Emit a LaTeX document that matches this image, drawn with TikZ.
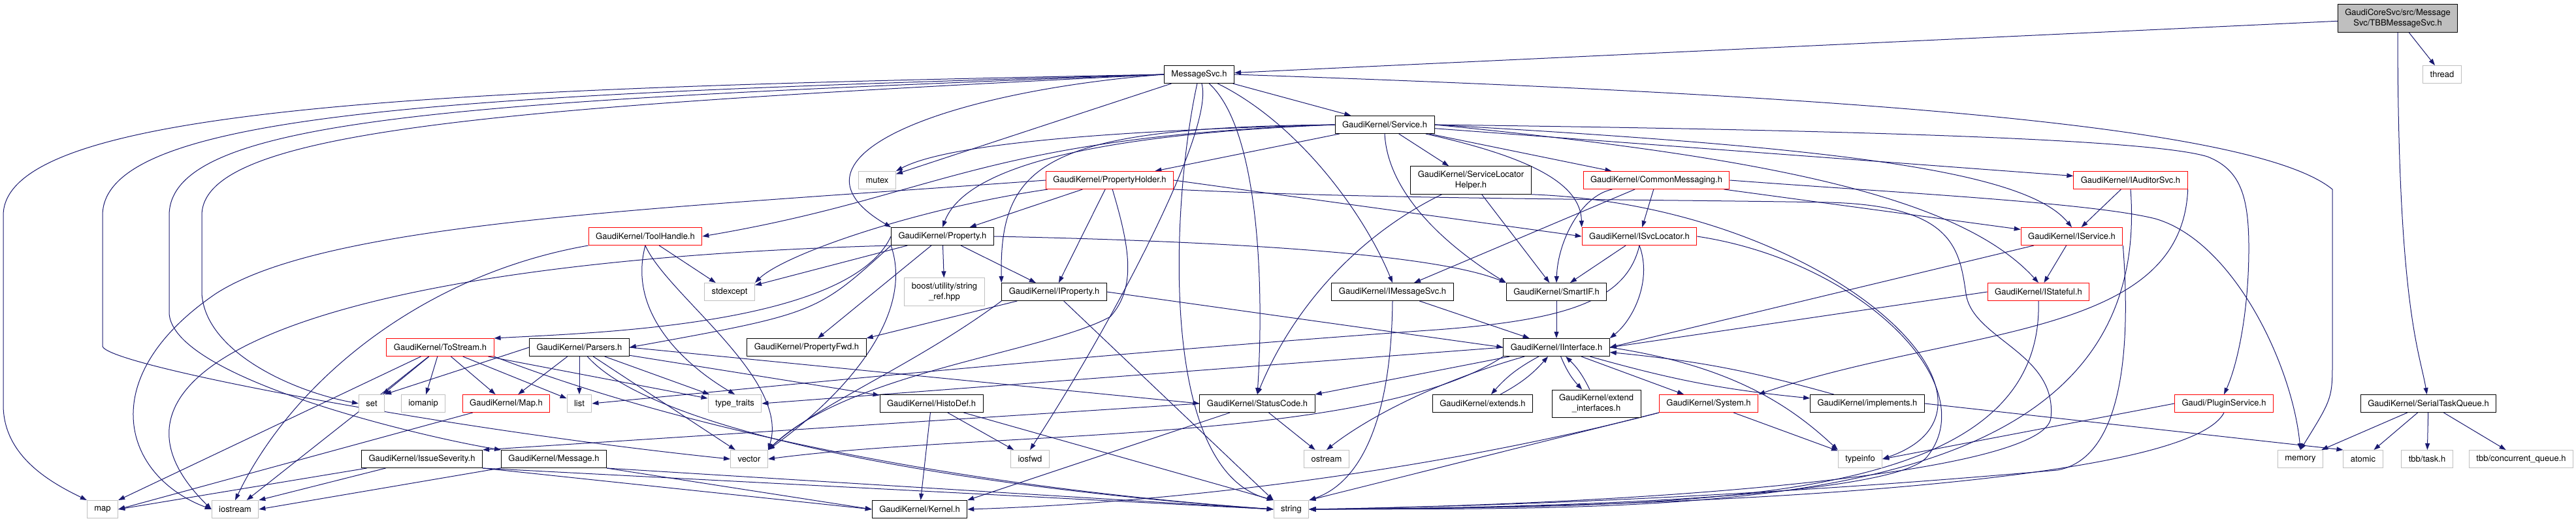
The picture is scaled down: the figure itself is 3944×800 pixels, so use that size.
\documentclass[tikz,border=0pt]{standalone}
\usepackage{fontspec}
\setmainfont{TeX Gyre Heros}
\usetikzlibrary{arrows.meta}
\definecolor{edgeblue}{HTML}{191970}
\definecolor{sysgray}{HTML}{BFBFBF}
\pgfdeclarelayer{edges}
\pgfsetlayers{edges,main}
\begin{document}
\begin{tikzpicture}
            [
                x = 0.5pt, y = -0.5pt,
                every node/.style = {shape=rectangle, draw=black, fill=white,
                line width=0.5pt, align=center,
                font=\fontsize{6.5}{8}\selectfont,
                inner xsep=5.5pt, inner ysep=3.5pt, minimum height=13.5pt},
                redbox/.style  = {draw=red},
                sysbox/.style  = {draw=sysgray},
                rootbox/.style = {fill=sysgray},
                inc/.style = {draw=edgeblue, line width=0.5pt,
                -{Triangle[length=5pt,width=3.5pt]}}
            ]
            \useasboundingbox (0,0) rectangle (3944,800);
            \node [rootbox] (root) at (3671,28) {GaudiCoreSvc/src/Message\\Svc/TBBMessageSvc.h};
            \node [sysbox] (thread) at (3739,114) {thread};
            \node (msgsvc) at (1836,114) {MessageSvc.h};
            \node (service) at (2120,191) {GaudiKernel/Service.h};
            \node [sysbox] (mutex) at (1343,276) {mutex};
            \node [redbox] (propholder) at (1699,276) {GaudiKernel/PropertyHolder.h};
            \node (slhelper) at (2252,276) {GaudiKernel/ServiceLocator\\Helper.h};
            \node [redbox] (commsg) at (2536,276) {GaudiKernel/CommonMessaging.h};
            \node [redbox] (iauditor) at (3262,276) {GaudiKernel/IAuditorSvc.h};
            \node [redbox] (toolhandle) at (988,362) {GaudiKernel/ToolHandle.h};
            \node (property) at (1443,362) {GaudiKernel/Property.h};
            \node [redbox] (isvcloc) at (2510,362) {GaudiKernel/ISvcLocator.h};
            \node [redbox] (iservice) at (3172,362) {GaudiKernel/IService.h};
            \node [sysbox] (stdexcept) at (1117,447) {stdexcept};
            \node [sysbox] (stringref) at (1446,447) {boost/utility/string\\\_ref.hpp};
            \node (iproperty) at (1614,447) {GaudiKernel/IProperty.h};
            \node (imsgsvc) at (2132,447) {GaudiKernel/IMessageSvc.h};
            \node (smartif) at (2383,447) {GaudiKernel/SmartIF.h};
            \node [redbox] (istateful) at (3121,447) {GaudiKernel/IStateful.h};
            \node [redbox] (tostream) at (674,532) {GaudiKernel/ToStream.h};
            \node (parsers) at (887,532) {GaudiKernel/Parsers.h};
            \node (propfwd) at (1235,532) {GaudiKernel/PropertyFwd.h};
            \node (iinterface) at (2383,532) {GaudiKernel/IInterface.h};
            \node [sysbox] (setn) at (569,618) {set};
            \node [sysbox] (iomanip) at (648,618) {iomanip};
            \node [redbox] (mapk) at (775,618) {GaudiKernel/Map.h};
            \node [sysbox] (listn) at (887,618) {list};
            \node [sysbox] (typetraits) at (1125,618) {type\_traits};
            \node (histodef) at (1426,618) {GaudiKernel/HistoDef.h};
            \node (statuscode) at (1925,618) {GaudiKernel/StatusCode.h};
            \node (extends) at (2270,618) {GaudiKernel/extends.h};
            \node (extendif) at (2444,618) {GaudiKernel/extend\\\_interfaces.h};
            \node [redbox] (system) at (2616,618) {GaudiKernel/System.h};
            \node (implements) at (2859,618) {GaudiKernel/implements.h};
            \node [redbox] (plugin) at (3405,618) {Gaudi/PluginService.h};
            \node (serialq) at (3718,618) {GaudiKernel/SerialTaskQueue.h};
            \node (issue) at (646,703) {GaudiKernel/IssueSeverity.h};
            \node (message) at (848,703) {GaudiKernel/Message.h};
            \node [sysbox] (vectorn) at (1147,703) {vector};
            \node [sysbox] (iosfwd) at (1577,703) {iosfwd};
            \node [sysbox] (ostream) at (2031,703) {ostream};
            \node [sysbox] (typeinfo) at (2848,703) {typeinfo};
            \node [sysbox] (memoryn) at (3522,703) {memory};
            \node [sysbox] (atomic) at (3618,703) {atomic};
            \node [sysbox] (tbbtask) at (3716,703) {tbb/task.h};
            \node [sysbox] (tbbqueue) at (3860,703) {tbb/concurrent\_queue.h};
            \node [sysbox] (mapn) at (157,780) {map};
            \node [sysbox] (iostream) at (360,780) {iostream};
            \node (kernel) at (1408,780) {GaudiKernel/Kernel.h};
            \node [sysbox] (stringn) at (1977,780) {string};
            \begin{pgfonlayer}{edges}
            \draw [inc] (root) -- (msgsvc);
            \draw [inc] (root) -- (thread);
            \draw [inc] (root) .. controls (3671,470) and (3705,540) .. (serialq);
            \draw [inc] (serialq) -- (memoryn);
            \draw [inc] (serialq) -- (atomic);
            \draw [inc] (serialq) -- (tbbtask);
            \draw [inc] (serialq) -- (tbbqueue);
            \draw [inc] (msgsvc) -- (service);
            \draw [inc] (msgsvc) -- (mutex);
            \draw [inc] (msgsvc.west) .. controls (1450,140) and (1180,240) .. (property.north west);
            \draw [inc] (msgsvc) .. controls (1990,190) and (2090,330) .. (imsgsvc.north);
            \draw [inc] (msgsvc) .. controls (1930,200) and (1935,450) .. (statuscode.north);
            \draw [inc] (msgsvc) .. controls (1860,200) and (1700,500) .. (iosfwd.north);
            \draw [inc] (msgsvc) .. controls (1795,300) and (1770,720) .. (stringn.north west);
            \draw [inc] (msgsvc.east) .. controls (2800,145) and (3450,190) .. (3571,290)
                -- (3571,550) .. controls (3571,610) .. (memoryn.north);
            \draw [inc] (msgsvc.west) .. controls (700,135) and (5,160) .. (5,330)
                -- (5,620) .. controls (5,700) and (80,740) .. (mapn.north west);
            \draw [inc] (msgsvc.west) .. controls (700,145) and (157,170) .. (157,330)
                -- (157,530) .. controls (160,560) and (700,660) .. (vectorn.west);
            \draw [inc] (msgsvc.west) .. controls (700,155) and (259,180) .. (259,330)
                -- (259,480) .. controls (265,580) and (650,670) .. (message.north west);
            \draw [inc] (msgsvc.west) .. controls (750,165) and (309,200) .. (309,330)
                -- (309,450) .. controls (315,540) and (450,600) .. (setn.west);
            \draw [inc] (service) -- (propholder);
            \draw [inc] (service) -- (slhelper);
            \draw [inc] (service) -- (commsg);
            \draw [inc] (service) -- (iauditor);
            \draw [inc] (service.west) .. controls (1500,210) and (1440,300) .. (toolhandle.east);
            \draw [inc] (service.west) .. controls (1700,205) and (1480,250) .. (property.north);
            \draw [inc] (service.west) .. controls (1700,200) and (1450,220) .. (mutex.north east);
            \draw [inc] (service.west) .. controls (1600,195) and (1530,250) .. (iproperty.north west);
            \draw [inc] (service) .. controls (2340,240) and (2420,280) .. (isvcloc.north west);
            \draw [inc] (service.east) .. controls (2800,225) and (3100,260) .. (iservice.north);
            \draw [inc] (service.south) .. controls (2125,300) and (2220,380) .. (smartif.north west);
            \draw [inc] (service.east) .. controls (2700,240) and (3000,300) .. (istateful.north);
            \draw [inc] (service.east) .. controls (2900,200) and (3300,215) .. (3380,240)
                .. controls (3430,260) and (3443,300) .. (3443,380)
                .. controls (3443,480) and (3425,560) .. (plugin.north);
            \draw [inc] (propholder.west) .. controls (1000,320) and (500,340) .. (330,450)
                .. controls (140,580) and (190,730) .. (iostream.west);
            \draw [inc] (propholder) -- (property);
            \draw [inc] (propholder) -- (iproperty);
            \draw [inc] (propholder.east) -- (isvcloc.west);
            \draw [inc] (propholder) .. controls (1400,320) and (1200,390) .. (stdexcept.north east);
            \draw [inc] (propholder) .. controls (1730,380) and (1740,440) .. (1700,485)
                .. controls (1600,540) and (1300,570) .. (vectorn.north east);
            \draw [inc] (propholder.south east) .. controls (2100,305) and (2500,305) .. (2800,310)
                .. controls (2990,315) and (3000,380) .. (3010,450)
                .. controls (3020,520) and (3150,540) .. (3140,640)
                .. controls (3130,720) and (2600,770) .. (stringn.east);
            \draw [inc] (slhelper) .. controls (2080,360) and (1980,470) .. (statuscode.north);
            \draw [inc] (slhelper) -- (smartif);
            \draw [inc] (slhelper.south east) .. controls (2800,315) and (3120,620) .. (typeinfo.east);
            \draw [inc] (commsg) -- (isvcloc);
            \draw [inc] (commsg) .. controls (2420,300) and (2385,370) .. (smartif.north);
            \draw [inc] (commsg) -- (imsgsvc);
            \draw [inc] (commsg) -- (iservice);
            \draw [inc] (commsg.east) .. controls (2900,295) and (3200,310) .. (3300,335)
                .. controls (3420,370) and (3510,560) .. (memoryn.north);
            \draw [inc] (iauditor) -- (iservice);
            \draw [inc] (iauditor.south east) .. controls (3340,520) and (3000,500) .. (system.north east);
            \draw [inc] (iauditor.south) .. controls (3300,800) and (2600,778) .. (stringn.east);
            \draw [inc] (toolhandle) -- (stdexcept);
            \draw [inc] (toolhandle.south) .. controls (960,480) and (1050,560) .. (typetraits.north);
            \draw [inc] (toolhandle.south) .. controls (1020,450) and (1210,580) .. (vectorn.north east);
            \draw [inc] (toolhandle.south west) .. controls (650,420) and (450,580) .. (iostream.north);
            \draw [inc] (property) -- (stdexcept);
            \draw [inc] (property) -- (stringref);
            \draw [inc] (property) -- (iproperty);
            \draw [inc] (property.west) .. controls (1300,500) and (900,510) .. (tostream.north east);
            \draw [inc] (property.south west) .. controls (1250,480) .. (parsers.east);
            \draw [inc] (property) -- (propfwd);
            \draw [inc] (property.east) .. controls (1900,370) and (2200,390) .. (smartif.north west);
            \draw [inc] (property.south west) .. controls (500,400) and (100,560) .. (iostream.west);
            \draw [inc] (property.south west) .. controls (1400,480) and (1300,600) .. (vectorn.north east);
            \draw [inc] (isvcloc.south) .. controls (2530,430) and (2500,490) .. (iinterface.north east);
            \draw [inc] (isvcloc) -- (smartif);
            \draw [inc] (isvcloc.south) .. controls (2490,460) and (2400,490) .. (2200,505)
                .. controls (1700,540) and (1200,590) .. (listn.east);
            \draw [inc] (isvcloc.east) .. controls (2850,400) and (3040,590) .. (2950,700)
                .. controls (2900,760) and (2400,778) .. (stringn.east);
            \draw [inc] (iservice) -- (istateful);
            \draw [inc] (iservice) -- (iinterface.east);
            \draw [inc] (iservice.south east) .. controls (3260,500) and (3260,700) .. (3150,720)
                .. controls (2700,760) and (2300,775) .. (stringn.east);
            \draw [inc] (iproperty) -- (propfwd.north east);
            \draw [inc] (iproperty.east) -- (iinterface.west);
            \draw [inc] (iproperty) -- (stringn.north west);
            \draw [inc] (iproperty.south west) .. controls (1400,560) and (1250,620) .. (vectorn.north east);
            \draw [inc] (imsgsvc) -- (iinterface);
            \draw [inc] (imsgsvc.south) .. controls (2130,650) and (2080,740) .. (stringn.north east);
            \draw [inc] (smartif) -- (iinterface);
            \draw [inc] (istateful.west) -- (iinterface.east);
            \draw [inc] (istateful.south) .. controls (3130,780) and (2600,775) .. (stringn.east);
            \draw [inc] (iinterface) to [bend right=10] (extends);
            \draw [inc] (extends) to [bend right=10] (iinterface);
            \draw [inc] (iinterface) to [bend right=10] (extendif);
            \draw [inc] (extendif) to [bend right=10] (iinterface);
            \draw [inc] (iinterface) to [bend right=5] (implements);
            \draw [inc] (implements) to [bend right=5] (iinterface);
            \draw [inc] (iinterface) -- (system);
            \draw [inc] (iinterface) -- (statuscode.north east);
            \draw [inc] (iinterface) .. controls (2180,590) and (2080,650) .. (ostream.north);
            \draw [inc] (iinterface.east) .. controls (2650,560) and (2740,620) .. (typeinfo.north west);
            \draw [inc] (iinterface.west) -- (typetraits.east);
            \draw [inc] (iinterface.south west) .. controls (2100,680) and (1500,660) .. (vectorn.east);
            \draw [inc] (implements.east) -- (atomic.north west);
            \draw [inc] (system) -- (typeinfo);
            \draw [inc] (system.south west) .. controls (2200,720) and (1800,770) .. (kernel.east);
            \draw [inc] (system.south west) -- (stringn.north east);
            \draw [inc] (plugin.west) -- (typeinfo.east);
            \draw [inc] (plugin.south) .. controls (3350,740) and (2600,778) .. (stringn.east);
            \draw [inc] (tostream) -- (iomanip);
            \draw [inc] (tostream) -- (setn);
            \draw [inc] (tostream) -- (mapk);
            \draw [inc] (tostream) -- (listn);
            \draw [inc] (tostream) -- (typetraits);
            \draw [inc] (tostream) -- (mapn.north east);
            \draw [inc] (tostream) -- (iostream);
            \draw [inc] (tostream.south east) .. controls (1000,640) and (1400,740) .. (stringn.west);
            \draw [inc] (parsers) -- (mapk);
            \draw [inc] (parsers) -- (listn);
            \draw [inc] (parsers.west) -- (setn.north east);
            \draw [inc] (parsers) -- (typetraits);
            \draw [inc] (parsers) -- (vectorn);
            \draw [inc] (parsers.east) -- (statuscode.west);
            \draw [inc] (parsers) -- (histodef);
            \draw [inc] (parsers) .. controls (1000,660) and (1450,745) .. (stringn.west);
            \draw [inc] (mapk) -- (mapn.east);
            \draw [inc] (histodef) -- (iosfwd);
            \draw [inc] (histodef) -- (kernel);
            \draw [inc] (histodef) -- (stringn.north west);
            \draw [inc] (statuscode.west) -- (issue.north east);
            \draw [inc] (statuscode) -- (ostream);
            \draw [inc] (statuscode) -- (kernel.north east);
            \draw [inc] (issue) -- (mapn.east);
            \draw [inc] (issue) -- (iostream.north east);
            \draw [inc] (issue.south east) -- (kernel.west);
            \draw [inc] (issue.south east) -- (stringn.west);
            \draw [inc] (message) -- (iostream.east);
            \draw [inc] (message.south east) -- (kernel.west);
            \draw [inc] (message.south east) -- (stringn.west);
            \end{pgfonlayer}
        \end{tikzpicture}
\end{document}
